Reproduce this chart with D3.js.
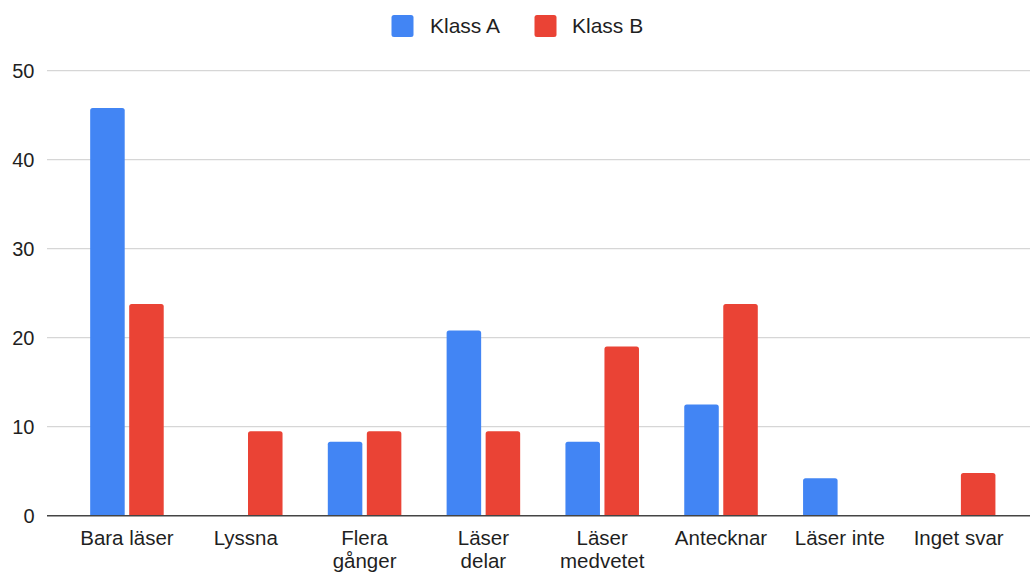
<!DOCTYPE html>
<html>
<head>
<meta charset="utf-8">
<script src="https://cdn.jsdelivr.net/npm/d3@7"></script>
<style>
  html, body { margin: 0; padding: 0; background: #fff; }
  svg { display: block; }
  text { font-family: "Liberation Sans", Arial, Helvetica, sans-serif; fill: #1f1f1f; }
</style>
</head>
<body>
<svg id="chart" width="1030" height="572"></svg>
<script>
const categories = [
  ["Bara läser"],
  ["Lyssna"],
  ["Flera", "gånger"],
  ["Läser", "delar"],
  ["Läser", "medvetet"],
  ["Antecknar"],
  ["Läser inte"],
  ["Inget svar"]
];
const seriesNames = ["Klass A", "Klass B"];
const klassA = [45.8, 0, 8.3, 20.8, 8.3, 12.5, 4.2, 0];
const klassB = [23.8, 9.5, 9.5, 9.5, 19.0, 23.8, 0, 4.8];
const yTicks = [0, 10, 20, 30, 40, 50];
const colors = ["#4285F4", "#EA4335"];

const seriesValues = [klassA, klassB];
const catKeys = categories.map(c => c.join(" "));

const svg = d3.select("#chart");

const gridLeft = 47, gridRight = 1030;
const y = d3.scaleLinear().domain([0, 50]).range([515.7, 70.7]);
const x = d3.scaleBand().domain(catKeys).range([67.6, 1018])
  .paddingInner(0.381).paddingOuter(0.19);
const xs = d3.scaleBand().domain(seriesNames).range([0, x.bandwidth()]).paddingInner(0.115);

// gridlines
svg.append("g").selectAll("line")
  .data(yTicks.filter(t => t !== 0))
  .join("line")
  .attr("x1", gridLeft).attr("x2", gridRight)
  .attr("y1", d => y(d)).attr("y2", d => y(d))
  .attr("stroke", "#d6d6d6").attr("stroke-width", 1.2);

// y labels
svg.append("g").selectAll("text")
  .data(yTicks)
  .join("text")
  .attr("x", 34.5)
  .attr("y", d => y(d) + 6.8)
  .attr("text-anchor", "end")
  .attr("font-size", "20px")
  .text(d => d);

// bars
function topRounded(x0, y0, w, h, r) {
  if (h <= 0) return "";
  r = Math.min(r, h, w / 2);
  return `M${x0},${y0 + h}V${y0 + r}Q${x0},${y0} ${x0 + r},${y0}H${x0 + w - r}Q${x0 + w},${y0} ${x0 + w},${y0 + r}V${y0 + h}Z`;
}
const barData = [];
catKeys.forEach((c, i) => {
  seriesNames.forEach((s, j) => {
    barData.push({ cat: c, s: s, v: seriesValues[j][i], color: colors[j] });
  });
});
svg.append("g").selectAll("path")
  .data(barData.filter(d => d.v > 0))
  .join("path")
  .attr("d", d => {
    const x0 = x(d.cat) + xs(d.s);
    const y0 = y(d.v);
    return topRounded(x0, y0, xs.bandwidth(), y(0) - y0, 2.5);
  })
  .attr("fill", d => d.color);

// baseline axis
svg.append("line")
  .attr("x1", gridLeft).attr("x2", gridRight)
  .attr("y1", y(0)).attr("y2", y(0))
  .attr("stroke", "#444").attr("stroke-width", 1.5);

// x labels
const xl = svg.append("g").selectAll("text")
  .data(categories)
  .join("text")
  .attr("x", (d, i) => x(catKeys[i]) + x.bandwidth() / 2)
  .attr("y", 545)
  .attr("text-anchor", "middle")
  .attr("font-size", "20.5px");
xl.selectAll("tspan")
  .data(d => d)
  .join("tspan")
  .attr("x", function() { return d3.select(this.parentNode).attr("x"); })
  .attr("dy", (d, i) => i === 0 ? 0 : 23)
  .text(d => d);

// legend
const legendItems = [
  { name: seriesNames[0], color: colors[0], bx: 391.5, tx: 430 },
  { name: seriesNames[1], color: colors[1], bx: 534.5, tx: 572 }
];
const lg = svg.append("g");
lg.selectAll("rect")
  .data(legendItems)
  .join("rect")
  .attr("x", d => d.bx).attr("y", 15)
  .attr("width", 22).attr("height", 22)
  .attr("rx", 2.5)
  .attr("fill", d => d.color);
lg.selectAll("text")
  .data(legendItems)
  .join("text")
  .attr("x", d => d.tx).attr("y", 32.5)
  .attr("font-size", "21px")
  .text(d => d.name);
</script>
</body>
</html>
